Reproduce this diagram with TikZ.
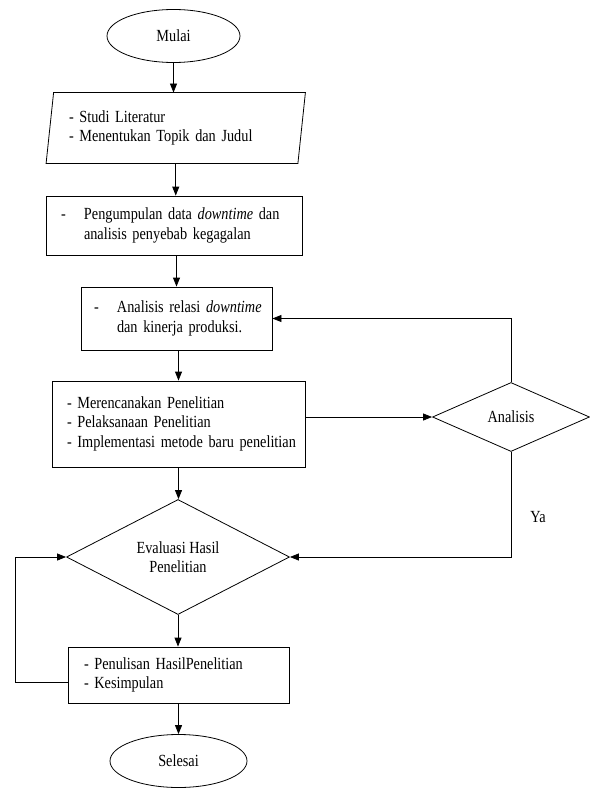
\documentclass[tikz,border=0pt]{standalone}
\usepackage{fontspec}
\setmainfont{Liberation Serif}[FakeStretch=0.84]
\usetikzlibrary{shapes.geometric,arrows.meta,calc}
\begin{document}
\begin{tikzpicture}[x=1pt,y=1pt,
  font=\fontsize{17}{19.5}\selectfont,
  line width=0.8pt,
  arr/.style={-{Triangle[length=9pt,width=7pt]}},
  term/.style={draw,ellipse,minimum width=133pt,minimum height=53pt,inner sep=0pt},
  proc/.style={draw,rectangle,inner ysep=0pt,align=left},
  dec/.style={draw,diamond,inner sep=0pt,align=center,aspect=2}]
\useasboundingbox (0,0) rectangle (589,-789);
\node[term] (mulai) at (173.5,-36) {Mulai};
\node[rectangle,minimum height=70pt,text width=213.5pt,inner xsep=18.75pt,align=left] (studi) at (175.75,-128) {\begin{tabular}{@{}l@{}}- Studi Literatur\\- Menentukan Topik dan Judul\end{tabular}};
\draw ($(studi.north west)+(3.75,0)$) -- ($(studi.north east)+(3.75,0)$) -- ($(studi.south east)+(-3.75,0)$) -- ($(studi.south west)+(-3.75,0)$) -- cycle;
\node[proc,minimum height=59pt,text width=226pt,inner xsep=15pt] (pengumpulan) at (174,-225.5) {\begin{tabular}{@{}p{23pt}@{}p{203pt}@{}}-&Pengumpulan data \textit{downtime} dan\linebreak analisis penyebab kegagalan\end{tabular}};
\node[proc,minimum height=63pt,text width=165pt,inner xsep=13pt] (relasi) at (176.5,-318.5) {\begin{tabular}{@{}p{23pt}@{}l@{}}-&Analisis relasi \textit{downtime}\\&dan kinerja produksi.\end{tabular}};
\node[proc,minimum height=86pt,text width=223pt,inner xsep=15pt] (rencana) at (178.5,-424) {\begin{tabular}{@{}l@{}}- Merencanakan Penelitian\\- Pelaksanaan Penelitian\\- Implementasi metode baru penelitian\end{tabular}};
\node[dec,minimum width=223pt,minimum height=115pt] (evaluasi) at (178,-557) {Evaluasi Hasil\\Penelitian};
\node[dec,minimum width=157pt,minimum height=69pt] (analisis) at (511,-417) {Analisis};
\node[proc,minimum height=56pt,text width=189pt,inner xsep=16pt] (tulis) at (178.5,-675) {\begin{tabular}{@{}l@{}}- Penulisan HasilPenelitian\\- Kesimpulan\end{tabular}};
\node[term,minimum width=137pt] (selesai) at (178.5,-761) {Selesai};
\node (ya) at (538,-517) {Ya};
\draw[arr] (mulai.south) -- (mulai.south |- studi.north);
\draw[arr] (studi.south) -- (studi.south |- pengumpulan.north);
\draw[arr] (relasi.north |- pengumpulan.south) -- (relasi.north);
\draw[arr] (rencana.north |- relasi.south) -- (rencana.north);
\draw[arr] (rencana.south) -- (rencana.south |- evaluasi.north);
\draw[arr] (evaluasi.south) -- (evaluasi.south |- tulis.north);
\draw[arr] (tulis.south) -- (tulis.south |- selesai.north);
\draw[arr] (rencana.east |- analisis.west) -- (analisis.west);
\draw[arr] (analisis.north) |- (relasi.east);
\draw[arr] (analisis.south) |- (evaluasi.east);
\coordinate (lp) at (15,-682);
\draw[arr] (tulis.west |- lp) -- (lp) |- (evaluasi.west);
\end{tikzpicture}
\end{document}
